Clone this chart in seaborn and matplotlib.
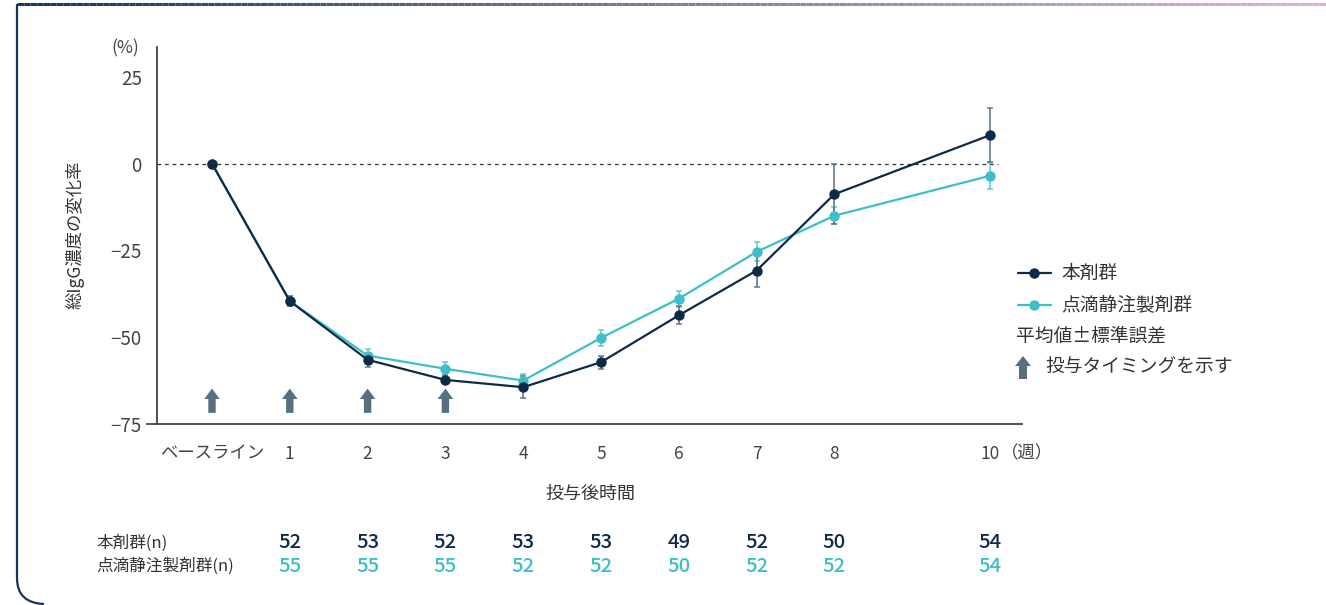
import numpy as np
import pandas as pd
import matplotlib.pyplot as plt
import seaborn as sns
from matplotlib.lines import Line2D
from matplotlib.patches import FancyArrow, PathPatch
from matplotlib.path import Path
from matplotlib.collections import LineCollection
from matplotlib.colors import LinearSegmentedColormap
from matplotlib.transforms import blended_transform_factory

# データ
weeks = [0, 1, 2, 3, 4, 5, 6, 7, 8, 10]
tick_labels = ['ベースライン', '1', '2', '3', '4', '5', '6', '7', '8', '10']
main_mean = [0, -39.6, -56.5, -62.3, -64.4, -57.2, -43.7, -30.8, -8.8, 8.2]
main_se = [0, 1.5, 2.0, 1.3, 3.1, 1.9, 2.6, 4.7, 8.7, 7.8]
iv_mean = [0, -39.6, -55.3, -59.1, -62.5, -50.2, -38.9, -25.4, -15.0, -3.5]
iv_se = [0, 1.5, 2.0, 2.0, 2.0, 2.4, 2.3, 2.7, 2.5, 3.7]
dose_weeks = [0, 1, 2, 3]
n_weeks = [1, 2, 3, 4, 5, 6, 7, 8, 10]
main_n = [52, 53, 52, 53, 53, 49, 52, 50, 54]
iv_n = [55, 55, 55, 52, 52, 50, 52, 52, 54]

MAIN = '本剤群'
IV = '点滴静注製剤群'
NAVY = '#0e2a47'
TEAL = '#3cbfc6'
ARROW = '#56707f'
TXT = '#333333'

sns.set_style('white')
plt.rcParams['font.family'] = ['Noto Sans CJK JP', 'DejaVu Sans']

W, H = 1326, 605
def px(x, y):
    return x / W, 1 - y / H

fig = plt.figure(figsize=(W / 100, H / 100), dpi=100)
ax = fig.add_axes([147 / W, 1 - 424 / H, (1022 - 147) / W, (424 - 47) / H])

x_per_px = 1 / 77.8
xmin = (147 - 212) * x_per_px
xmax = (1022 - 212) * x_per_px
yspine = (157 - 212) * x_per_px
ax.set_xlim(xmin, xmax)
ax.set_ylim(-75, 33.6)

df = pd.DataFrame({
    'week': weeks * 2,
    'value': iv_mean + main_mean,
    'group': [IV] * len(weeks) + [MAIN] * len(weeks),
})

# 誤差棒
ax.errorbar(weeks[1:], iv_mean[1:], yerr=iv_se[1:], fmt='none', ecolor=TEAL,
            elinewidth=1.3, capsize=2.5, capthick=1.2, alpha=0.7, zorder=2)
ax.errorbar(weeks[1:], main_mean[1:], yerr=main_se[1:], fmt='none', ecolor='#4f667b',
            elinewidth=1.3, capsize=2.5, capthick=1.2, alpha=0.8, zorder=2)

sns.lineplot(data=df, x='week', y='value', hue='group', hue_order=[IV, MAIN],
             palette={IV: TEAL, MAIN: NAVY}, marker='o', markersize=7.5,
             markeredgewidth=0, linewidth=1.6, legend=False, ax=ax, zorder=3)

ax.hlines(0, yspine, 10.1, colors='#333333', linestyles=(0, (3, 3)), linewidth=0.9, zorder=1)

# 投与タイミング
for w in dose_weeks:
    ax.add_patch(FancyArrow(w, -71.8, 0, 7.0, width=0.095, head_width=0.2,
                            head_length=3.0, length_includes_head=True,
                            color=ARROW, lw=0, zorder=3))

ax.spines['top'].set_visible(False)
ax.spines['right'].set_visible(False)
ax.spines['left'].set_position(('data', yspine))
for s in ['left', 'bottom']:
    ax.spines[s].set_color('#333333')
    ax.spines[s].set_linewidth(1.2)

ax.set_xticks(weeks)
ax.set_xticklabels(tick_labels)
ax.set_yticks([-75, -50, -25, 0, 25])
ax.tick_params(axis='both', direction='out', length=7, width=1, color='#888888',
               labelcolor='#444444', labelsize=12.5)
ax.tick_params(axis='x', pad=8)
ax.tick_params(axis='y', pad=4, labelsize=13.5)
ax.set_xlabel('')
ax.set_ylabel('')

fig.text(*px(125, 48), '(%)', ha='center', va='center', fontsize=12.5, color='#444444')
fig.text(*px(1001, 453), '（週）', ha='left', va='center', fontsize=12.5, color='#444444')
fig.text(*px(75, 235), '総IgG濃度の変化率', rotation=90, ha='center', va='center',
         fontsize=12.5, color=TXT)
fig.text(*px(590, 494), '投与後時間', ha='center', va='center', fontsize=13, color=TXT)

# 凡例
for yy, col, lab in [(273, NAVY, MAIN), (305, TEAL, IV)]:
    fig.add_artist(Line2D([1018 / W, 1051 / W], [1 - yy / H] * 2, color=col, lw=1.6))
    fig.add_artist(Line2D([1034 / W], [1 - yy / H], color=col, marker='o',
                          markersize=7.5, markeredgewidth=0))
    fig.text(*px(1061, yy), lab, ha='left', va='center', fontsize=13.5, color=TXT)
fig.text(*px(1016, 336), '平均値±標準誤差', ha='left', va='center', fontsize=13.5, color=TXT)
fig.add_artist(FancyArrow(1023 / W, 1 - 379 / H, 0, 23 / H, width=8 / W, head_width=16 / W,
                          head_length=10 / H, length_includes_head=True, color=ARROW,
                          lw=0, transform=fig.transFigure))
fig.text(*px(1045, 367), '投与タイミングを示す', ha='left', va='center', fontsize=13.5, color=TXT)

# 症例数
tr = blended_transform_factory(ax.transData, fig.transFigure)
fig.text(*px(96, 543), '本剤群(n)', ha='left', va='center', fontsize=12, color=TXT)
fig.text(*px(96, 566), '点滴静注製剤群(n)', ha='left', va='center', fontsize=12, color=TXT)
for w, a, b in zip(n_weeks, main_n, iv_n):
    ax.text(w, 1 - 543 / H, str(a), transform=tr, ha='center', va='center',
            fontsize=14.5, fontweight='medium', color=NAVY)
    ax.text(w, 1 - 566 / H, str(b), transform=tr, ha='center', va='center',
            fontsize=14.5, fontweight='medium', color=TEAL)

# 枠
cmap = LinearSegmentedColormap.from_list('edge', ['#17355a', '#7c7f9a', '#dcb0de'])
xs = np.linspace(17, W, 200)
segs = [[px(xs[i], 4), px(xs[i + 1], 4)] for i in range(len(xs) - 1)]
fig.add_artist(LineCollection(segs, colors=cmap(np.linspace(0, 1, len(segs))),
                              linewidths=2.2, transform=fig.transFigure))
verts = [px(17, 4), px(17, 578), px(17, 603), px(44, 604)]
codes = [Path.MOVETO, Path.LINETO, Path.CURVE3, Path.CURVE3]
fig.add_artist(PathPatch(Path(verts, codes), fill=False, edgecolor='#17355a', lw=1.6,
                         transform=fig.transFigure))

fig.savefig('out.png', dpi=100, facecolor='white')
